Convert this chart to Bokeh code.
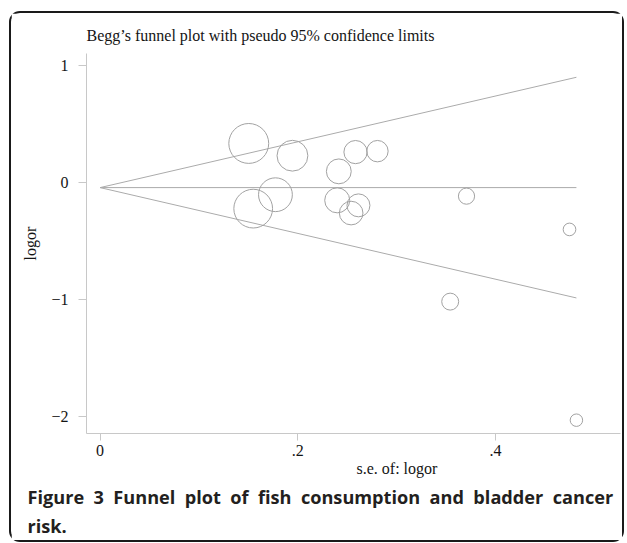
from bokeh.plotting import figure
from bokeh.models import Range1d, FixedTicker, Title, ColumnDataSource
from bokeh.embed import file_html
from bokeh.resources import INLINE

# ---- data ----
se = [0.1504, 0.1946, 0.2584, 0.2806, 0.2415, 0.1774, 0.1549,
      0.2399, 0.2614, 0.2540, 0.3707, 0.4749, 0.3542, 0.4819]
logor = [0.336, 0.231, 0.262, 0.270, 0.097, -0.103, -0.222,
         -0.151, -0.194, -0.260, -0.115, -0.400, -1.018, -2.033]
pooled = -0.042
z95 = 1.96

y_ticks = [-2, -1, 0, 1]
y_tick_labels = ["\u22122", "\u22121", "0", "1"]
x_ticks = [0, 0.2, 0.4]
x_tick_labels = ["0", ".2", ".4"]

title_text = "Begg\u2019s funnel plot with pseudo 95% confidence limits"
x_label = "s.e. of: logor"
y_label = "logor"
caption_line1 = ["Figure", "3", "Funnel", "plot", "of", "fish",
                 "consumption", "and", "bladder", "cancer"]
caption_line2 = "risk."

# ---- styles / layout ----
SERIF = "Liberation Serif"
SANS = "Open Sans"
GREY_AX = "#c8c8c8"
GREY_LN = "#ababab"
GREY_PT = "#a2a2a2"
TXT = "#141414"
CAP = "#231f20"

W, H = 615, 531
p = figure(width=W, height=H, output_backend="svg", toolbar_location=None,
           x_range=Range1d(-0.01376, 0.5265), y_range=Range1d(-2.147, 1.106),
           min_border_left=75, min_border_right=6, min_border_top=40,
           min_border_bottom=111)
p.margin = (11, 0, 0, 9)
p.outline_line_color = None
p.grid.visible = False
p.background_fill_color = "white"
p.border_fill_color = "white"
p.styles = {"border": "2px solid #1a1a1a", "border-radius": "11px"}

# funnel lines
se_max = max(se)
p.line([0, se_max], [pooled, pooled], line_color=GREY_LN, line_width=1)
p.line([0, se_max], [pooled, pooled + z95 * se_max], line_color=GREY_LN, line_width=1)
p.line([0, se_max], [pooled, pooled - z95 * se_max], line_color=GREY_LN, line_width=1)

# studies, marker diameter proportional to 1/se (weights)
src = ColumnDataSource(dict(se=se, logor=logor, size=[6.0 / s for s in se]))
p.scatter("se", "logor", source=src, size="size", marker="circle",
          fill_color=None, line_color=GREY_PT, line_width=1)

# axes
ya = p.yaxis[0]
ya.ticker = FixedTicker(ticks=y_ticks, minor_ticks=[])
ya.major_label_overrides = dict(zip(y_ticks, y_tick_labels))
ya.axis_label = y_label
ya.axis_label_text_font = SERIF
ya.axis_label_text_font_style = "normal"
ya.axis_label_text_font_size = "16px"
ya.axis_label_text_color = TXT
ya.axis_label_standoff = 9
ya.major_label_orientation = "horizontal"

xa = p.xaxis[0]
xa.ticker = FixedTicker(ticks=x_ticks, minor_ticks=[])
xa.major_label_overrides = dict(zip(x_ticks, x_tick_labels))

for ax in (xa, ya):
    ax.axis_line_color = GREY_AX
    ax.major_tick_line_color = GREY_AX
    ax.minor_tick_line_color = None
    ax.major_tick_in = 0
    ax.major_label_text_font = SERIF
    ax.major_label_text_font_size = "16px"
    ax.major_label_text_color = TXT
ya.major_tick_out = 8
ya.major_label_standoff = 10
xa.major_tick_out = 7
xa.major_label_standoff = 4

# title
p.title.text = title_text
p.title.align = "left"
p.title.text_font = SERIF
p.title.text_font_size = "16px"
p.title.text_font_style = "normal"
p.title.text_color = TXT
p.title.standoff = 20

# x label (centred at s.e. = .3 like the original) and caption
p.add_layout(Title(text=x_label, align="left", offset=270, standoff=-2,
                   text_font=SERIF, text_font_size="16px", text_font_style="normal",
                   text_color=TXT), "below")
p.add_layout(Title(text="\u00a0 ".join(caption_line1), align="left", offset=-59,
                   standoff=15, text_font=SANS, text_font_size="18.15px",
                   text_font_style="bold", text_color=CAP), "below")
p.add_layout(Title(text=caption_line2, align="left", offset=-59, standoff=-9,
                   text_font=SANS, text_font_size="18.15px",
                   text_font_style="bold", text_color=CAP), "below")

open("out.html", "w").write(file_html(p, INLINE))
